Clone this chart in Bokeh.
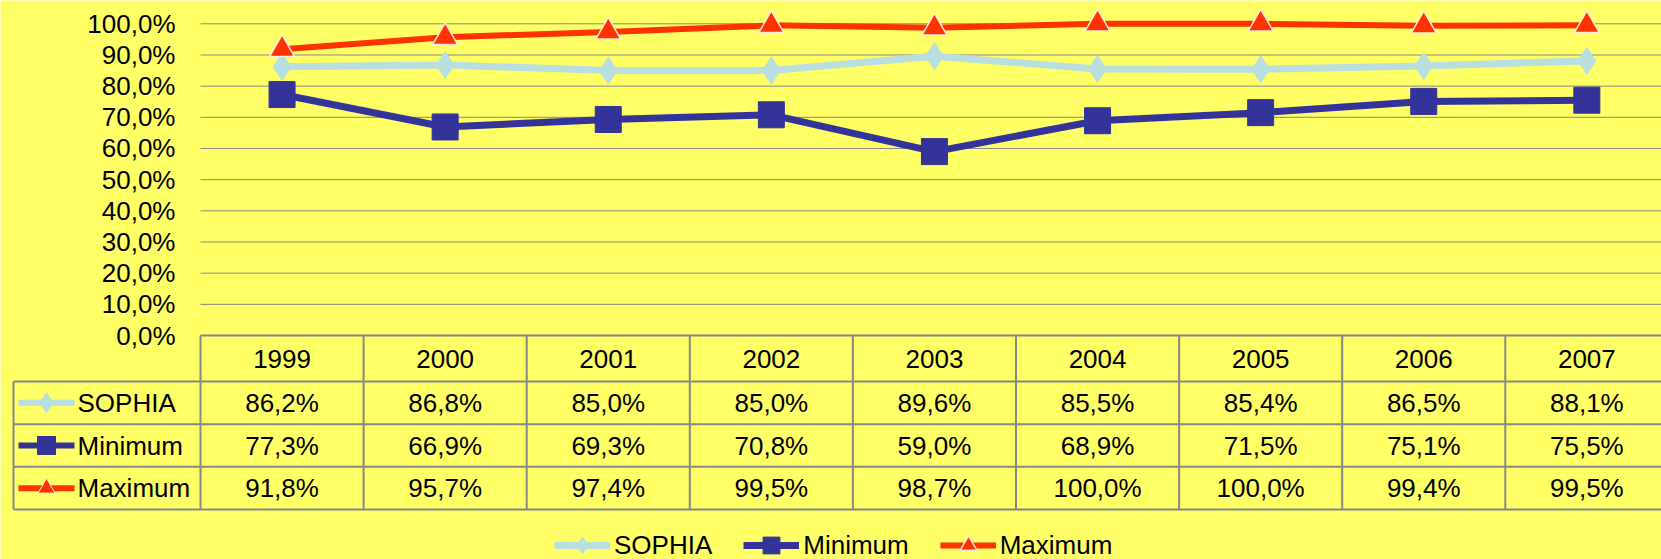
from bokeh.plotting import figure
from bokeh.models import Range1d, FixedTicker, Legend, LegendItem, CustomJSTickFormatter
from bokeh.core.properties import value
from bokeh.embed import file_html
from bokeh.resources import INLINE

# ---------------- data ----------------
years = ["1999", "2000", "2001", "2002", "2003", "2004", "2005", "2006", "2007"]
sophia = [86.2, 86.8, 85.0, 85.0, 89.6, 85.5, 85.4, 86.5, 88.1]
minimum = [77.3, 66.9, 69.3, 70.8, 59.0, 68.9, 71.5, 75.1, 75.5]
maximum = [91.8, 95.7, 97.4, 99.5, 98.7, 100.0, 100.0, 99.4, 99.5]
series_names = ["SOPHIA", "Minimum", "Maximum"]
y_ticks = [0, 10, 20, 30, 40, 50, 60, 70, 80, 90, 100]

# ---------------- style / layout constants ----------------
BG = "#FFFF66"
GRID = "#878787"
C_SOPHIA = "#B9DFE1"
C_MIN = "#333399"
C_MAX = "#FF3300"
C_TRI_EDGE = "#FFE8DC"
FONT = "Liberation Sans"
FS = "26px"

W, H = 1661, 559
PLOT_LEFT = 200          # px: left edge of plot area / first table column
COL_W = 163.1            # px per category column
PX_PER_PCT = 3.117       # px per percentage point
ZERO_Y = 335             # px from top to the 0% line (= table top)
HEADER_H = 46            # px: year header row
ROW_H = 42.67            # px: data rows
LEG_COL_LEFT = 13        # px: left edge of legend column

ncol = len(years)
nrow = len(series_names)
xs = list(range(ncol))


def X(px):
    """horizontal pixel position -> category scale"""
    return (px - PLOT_LEFT) / COL_W - 0.5


def Y(px):
    """vertical pixel position (from top) -> percent scale"""
    return (ZERO_Y - px) / PX_PER_PCT


x0, x1 = X(0), X(W)
p = figure(width=W, height=H,
           x_range=Range1d(x0, x1), y_range=Range1d(Y(H), Y(0)),
           x_axis_type=None, output_backend="svg", toolbar_location=None,
           min_border_left=0, min_border_right=0, min_border_top=0, min_border_bottom=0,
           background_fill_color=BG, border_fill_color=BG, outline_line_color=None)

yax = p.yaxis[0]
yax.fixed_location = X(PLOT_LEFT)
yax.ticker = FixedTicker(ticks=y_ticks)
yax.formatter = CustomJSTickFormatter(code="return tick.toFixed(1).replace('.', ',') + '%';")
yax.axis_line_color = None
yax.major_tick_line_color = None
yax.minor_tick_line_color = None
yax.major_tick_out = 0
yax.major_tick_in = 0
yax.major_label_standoff = 25
yax.major_label_text_font = FONT
yax.major_label_text_font_size = FS
yax.major_label_text_color = "black"
p.ygrid.visible = False

# gridlines over the plot area only
p.segment(x0=[X(PLOT_LEFT)] * len(y_ticks), y0=y_ticks, x1=[x1] * len(y_ticks), y1=y_ticks,
          line_color=GRID, line_width=1)

# ---------------- chart ----------------
l_s = p.line(xs, sophia, line_color=C_SOPHIA, line_width=7)
m_s = p.scatter(xs, sophia, marker="diamond", size=27, fill_color=C_SOPHIA, line_color=C_SOPHIA)
l_n = p.line(xs, minimum, line_color=C_MIN, line_width=7)
m_n = p.scatter(xs, minimum, marker="square", size=26, fill_color=C_MIN, line_color=C_MIN)
l_x = p.line(xs, maximum, line_color=C_MAX, line_width=6)
m_x = p.scatter(xs, maximum, marker="triangle", size=25, fill_color=C_MAX,
                line_color=C_TRI_EDGE, line_width=1.5)
rend_pairs = [[l_s, m_s], [l_n, m_n], [l_x, m_x]]

# ---------------- data table ----------------
hdr_bot = ZERO_Y + HEADER_H
row_edges = [hdr_bot + k * ROW_H for k in range(nrow + 1)]
table_bot = row_edges[-1]

# horizontal borders
p.segment(x0=[X(PLOT_LEFT)], y0=[Y(ZERO_Y)], x1=[x1], y1=[Y(ZERO_Y)], line_color=GRID, line_width=2)
hy = [Y(v) for v in row_edges]
p.segment(x0=[X(LEG_COL_LEFT)] * len(hy), y0=hy, x1=[x1] * len(hy), y1=hy, line_color=GRID, line_width=2)
# vertical borders
vx = [j - 0.5 for j in range(ncol + 1)]
p.segment(x0=vx, y0=[Y(ZERO_Y)] * len(vx), x1=vx, y1=[Y(table_bot)] * len(vx),
          line_color=GRID, line_width=2)
p.segment(x0=[X(LEG_COL_LEFT)], y0=[Y(hdr_bot)], x1=[X(LEG_COL_LEFT)], y1=[Y(table_bot)],
          line_color=GRID, line_width=2)

# year header
p.text(xs, [Y(ZERO_Y + HEADER_H / 2)] * ncol, text=years, text_align="center", text_baseline="middle",
       text_font=value(FONT), text_font_size=FS, text_color="black")

# values
cx, cy, ct = [], [], []
for k, ser in enumerate([sophia, minimum, maximum]):
    for i, v in enumerate(ser):
        cx.append(i)
        cy.append(Y(row_edges[k] + ROW_H / 2))
        ct.append(f"{v:.1f}".replace(".", ",") + "%")
p.text(cx, cy, text=ct, text_align="center", text_baseline="middle",
       text_font=value(FONT), text_font_size=FS, text_color="black")

# legend column of the table
colors = [C_SOPHIA, C_MIN, C_MAX]
markers = ["diamond", "square", "triangle"]
msizes = [20, 18, 17]
medges = [C_SOPHIA, C_MIN, C_TRI_EDGE]
ry = [Y(row_edges[k] + ROW_H / 2) for k in range(nrow)]
p.segment(x0=[X(LEG_COL_LEFT + 5)] * nrow, y0=ry, x1=[X(LEG_COL_LEFT + 61)] * nrow, y1=ry,
          line_color=colors, line_width=6)
p.scatter([X(LEG_COL_LEFT + 33)] * nrow, ry, marker=markers, size=msizes,
          fill_color=colors, line_color=medges, line_width=1)
p.text([X(LEG_COL_LEFT + 64)] * nrow, ry, text=series_names, text_align="left", text_baseline="middle",
       text_font=value(FONT), text_font_size=FS, text_color="black")

# bottom legend
legend = Legend(items=[LegendItem(label=n, renderers=r) for n, r in zip(series_names, rend_pairs)],
                orientation="horizontal", location=(554, -7),
                glyph_width=56, glyph_height=42, label_height=20,
                label_text_font=FONT, label_text_font_size=FS, label_text_color="black",
                label_standoff=4, spacing=31, padding=0, margin=0,
                border_line_color=None, background_fill_alpha=0)
p.add_layout(legend)

open("out.html", "w").write(file_html(p, INLINE))
